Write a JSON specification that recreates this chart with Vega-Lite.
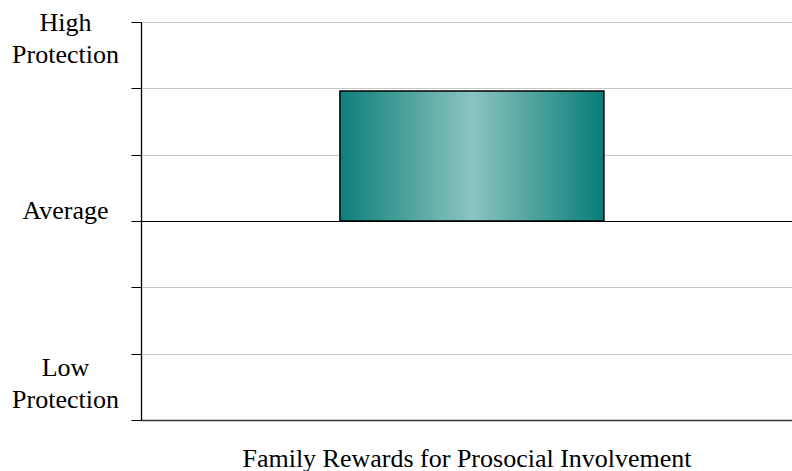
{
  "$schema": "https://vega.github.io/schema/vega-lite/v6.json",
  "width": 651,
  "height": 398,
  "autosize": "none",
  "padding": {"left": 141, "top": 22, "right": 0, "bottom": 51},
  "background": "#ffffff",
  "config": {"view": {"stroke": null}, "font": "Liberation Serif"},
  "data": {"values": [{"factor": "Family Rewards for Prosocial Involvement", "score": 1.96}]},
  "mark": {
    "type": "bar",
    "color": {"gradient": "linear", "x1": 0, "x2": 1, "y1": 0, "y2": 0,
      "stops": [{"offset": 0, "color": "#0d7f7a"}, {"offset": 0.5, "color": "#8bc4c0"}, {"offset": 1, "color": "#087d78"}]},
    "stroke": "#000000",
    "strokeWidth": 1.5
  },
  "encoding": {
    "x": {
      "field": "factor", "type": "nominal",
      "scale": {"paddingInner": 0, "paddingOuter": 0.733, "align": 0.514},
      "axis": {
        "labels": false, "ticks": false,
        "title": "Family Rewards for Prosocial Involvement",
        "titleFont": "Liberation Serif", "titleFontSize": 26, "titleFontWeight": "normal",
        "titleColor": "#000000", "titlePadding": 25,
        "domainColor": "#333333", "domainWidth": 1.5
      }
    },
    "y": {
      "field": "score", "type": "quantitative",
      "scale": {"domain": [-3, 3], "nice": false},
      "axis": {
        "title": null,
        "values": [-3, -2, -1, 0, 1, 2, 3],
        "tickSize": 10, "tickColor": "#000000", "tickWidth": 1,
        "domainColor": "#000000", "domainWidth": 1.3,
        "grid": true,
        "gridColor": {"condition": {"test": "datum.value == 0", "value": "#000000"}, "value": "#c6c6c6"},
        "gridWidth": 1.2,
        "labelExpr": "datum.value == 3 ? ['High', 'Protection'] : datum.value == 0 ? 'Average' : datum.value == -3 ? ['Low', 'Protection'] : ''",
        "labelFont": "Liberation Serif", "labelFontSize": 26, "labelColor": "#000000",
        "labelAlign": "center", "labelBaseline": "alphabetic", "labelPadding": 66,
        "labelLineHeight": 32.5,
        "labelOffset": {"condition": [{"test": "datum.value == 3", "value": 8}, {"test": "datum.value == -3", "value": -45}], "value": -3},
        "labelOverlap": false, "labelBound": false, "labelFlush": false
      }
    }
  }
}
